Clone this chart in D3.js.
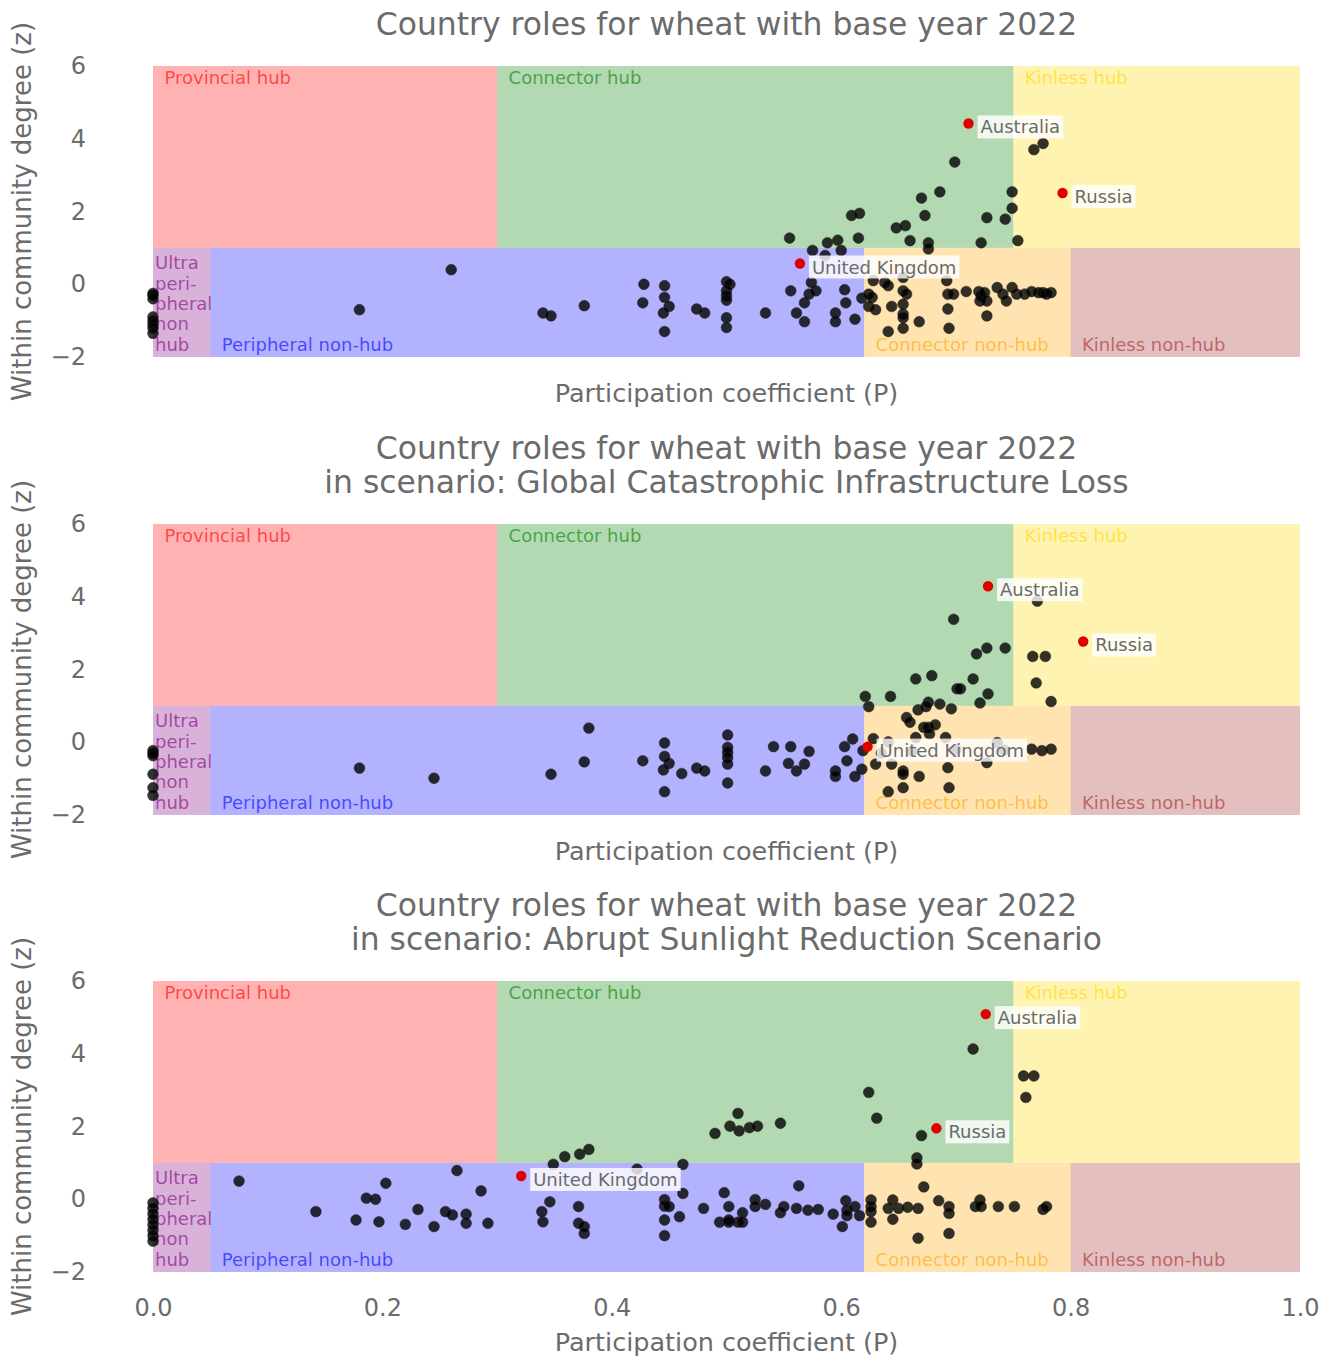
<!DOCTYPE html>
<html>
<head>
<title>Country roles for wheat</title>
<meta charset="utf-8">
<style type="text/css">
body { margin: 0; background: #fff; }
svg text { font-family: "DejaVu Sans", sans-serif; }
</style>
</head>
<body>
<svg id="chart"></svg>

<script src="https://d3js.org/d3.v7.min.js"></script>
<script type="text/javascript">
// ---- data ----
const X_TICKS = [0, 0.2, 0.4, 0.6, 0.8, 1.0];
const Y_TICKS = [-2, 0, 2, 4, 6];

// role regions: [name, label, p0, p1, z0, z1]
const ROLES = [
    ["ultra", "Ultra\nperi-\npheral\nnon\nhub", 0, 0.05, -2, 1],
    ["peripheral", "Peripheral non-hub", 0.05, 0.62, -2, 1],
    ["connectorNon", "Connector non-hub", 0.62, 0.8, -2, 1],
    ["kinlessNon", "Kinless non-hub", 0.8, 1, -2, 1],
    ["provincial", "Provincial hub", 0, 0.3, 1, 6],
    ["connectorHub", "Connector hub", 0.3, 0.75, 1, 6],
    ["kinlessHub", "Kinless hub", 0.75, 1, 1, 6]
];

const TITLES = [
    ["Country roles for wheat with base year 2022"],
    ["Country roles for wheat with base year 2022", "in scenario: Global Catastrophic Infrastructure Loss"],
    ["Country roles for wheat with base year 2022", "in scenario: Abrupt Sunlight Reduction Scenario"]
];

// [participation P, within-community degree z]
const BASE_POINTS = [
    [0,-0.25],[0,-0.3],[0,-0.4],[0,-0.9],[0,-1.0],[0,-1.1],[0,-1.2],[0,-1.35],
    [0.26,0.4],[0.18,-0.7],[0.34,-0.79],[0.347,-0.87],[0.376,-0.59],
    [0.768,3.70],[0.776,3.87],[0.699,3.36],[0.686,2.54],[0.670,2.37],[0.749,2.54],[0.749,2.09],
    [0.673,1.89],[0.727,1.83],[0.743,1.79],[0.609,1.89],[0.616,1.95],[0.648,1.55],[0.656,1.61],
    [0.555,1.27],[0.588,1.14],[0.597,1.21],[0.615,1.27],[0.660,1.20],[0.676,1.14],[0.676,0.97],
    [0.722,1.14],[0.754,1.20],[0.575,0.93],[0.600,0.93],[0.586,0.79],
    [0.428,0.0],[0.427,-0.51],[0.446,-0.04],[0.446,-0.36],[0.450,-0.61],[0.445,-0.79],[0.446,-1.30],
    [0.474,-0.68],[0.481,-0.79],[0.500,0.07],[0.503,0.0],[0.500,-0.18],[0.500,-0.32],[0.500,-0.44],
    [0.500,-0.92],[0.500,-1.19],[0.534,-0.79],[0.556,-0.18],[0.561,-0.79],[0.568,-1.03],[0.568,-0.51],
    [0.574,0.05],[0.572,-0.27],[0.578,-0.18],[0.603,-0.15],[0.604,-0.51],[0.595,-0.79],[0.595,-1.03],
    [0.612,-0.96],[0.618,-0.38],
    [0.624,-0.27],[0.627,-0.36],[0.628,0.10],[0.624,-0.61],[0.630,-0.70],[0.638,0.05],[0.641,-0.04],
    [0.641,-1.30],[0.644,-0.61],[0.654,0.19],[0.654,-0.18],[0.657,-0.27],[0.654,-0.55],[0.654,-0.82],
    [0.654,-0.92],[0.654,-1.21],[0.668,-1.03],[0.692,0.10],[0.693,-0.27],[0.698,-0.27],[0.693,-0.68],
    [0.694,-1.21],[0.709,-0.20],[0.720,-0.20],[0.722,-0.32],[0.721,-0.46],[0.725,-0.23],[0.727,-0.46],
    [0.727,-0.87],[0.736,-0.09],[0.741,-0.27],[0.744,-0.46],[0.749,-0.09],[0.753,-0.27],[0.760,-0.27],
    [0.766,-0.20],[0.772,-0.23],[0.776,-0.23],[0.779,-0.27],[0.783,-0.23]
];
const BASE_NAMED = [["Australia", 0.711, 4.42], ["Russia", 0.793, 2.51], ["United Kingdom", 0.564, 0.57]];

const GCIL_POINTS = [
    [0,-0.23],[0,-0.3],[0,-0.37],[0,-0.88],[0,-1.25],[0,-1.46],
    [0.380,0.39],[0.180,-0.71],[0.245,-0.99],[0.347,-0.88],[0.376,-0.54],
    [0.771,3.88],[0.698,3.38],[0.718,2.43],[0.727,2.59],[0.743,2.59],[0.767,2.36],[0.778,2.36],
    [0.770,1.63],[0.783,1.12],[0.665,1.74],[0.679,1.83],[0.715,1.74],[0.701,1.47],[0.704,1.47],
    [0.728,1.33],[0.721,1.08],[0.621,1.26],[0.624,0.98],[0.643,1.26],[0.667,0.89],[0.676,1.10],
    [0.674,0.98],[0.686,1.05],[0.696,0.92],[0.657,0.68],[0.660,0.55],[0.672,0.41],[0.676,0.41],
    [0.682,0.48],[0.677,0.23],[0.665,0.13],[0.691,0.13],[0.628,0.10],[0.641,0.01],[0.766,-0.19],
    [0.775,-0.23],[0.783,-0.19],[0.736,-0.01],[0.727,-0.56],[0.630,-0.60],[0.644,-0.60],[0.654,-0.79],
    [0.654,-0.88],[0.668,-0.94],[0.693,-0.70],[0.641,-1.36],[0.654,-1.25],[0.694,-1.25],
    [0.635,-0.30],[0.662,-0.25],[0.700,-0.20],[0.742,-0.22],
    [0.427,-0.51],[0.446,-0.02],[0.446,-0.39],[0.450,-0.58],[0.445,-0.76],[0.446,-1.36],[0.461,-0.86],
    [0.474,-0.71],[0.481,-0.79],[0.501,0.20],[0.501,-0.14],[0.501,-0.28],[0.501,-0.42],[0.501,-0.60],
    [0.501,-1.12],[0.534,-0.79],[0.541,-0.12],[0.556,-0.12],[0.572,-0.25],[0.554,-0.58],[0.561,-0.79],
    [0.568,-0.60],[0.603,-0.12],[0.610,0.09],[0.605,-0.51],[0.595,-0.79],[0.595,-0.94],[0.612,-0.94],
    [0.618,-0.74],[0.619,-0.23]
];
const GCIL_NAMED = [["Australia", 0.728, 4.29], ["Russia", 0.811, 2.77], ["United Kingdom", 0.623, -0.12]];

const ASRS_POINTS = [
    [0,-0.1],[0,-0.25],[0,-0.4],[0,-0.55],[0,-0.7],[0,-0.85],[0,-1.0],[0,-1.15],
    [0.075,0.50],[0.142,-0.34],[0.177,-0.57],[0.197,-0.62],[0.186,0.03],[0.194,0.0],[0.203,0.44],
    [0.220,-0.69],[0.231,-0.28],[0.245,-0.75],[0.255,-0.34],[0.261,-0.43],[0.265,0.79],[0.273,-0.41],
    [0.273,-0.66],[0.286,0.23],[0.292,-0.66],[0.339,-0.34],[0.340,-0.62],[0.346,-0.07],[0.349,0.96],
    [0.359,1.17],[0.372,1.24],[0.380,1.37],[0.371,-0.20],[0.371,-0.66],[0.376,-0.75],[0.376,-0.94],
    [0.715,4.13],[0.759,3.39],[0.768,3.39],[0.761,2.80],[0.624,2.94],[0.631,2.23],[0.670,1.75],
    [0.666,1.14],[0.666,0.97],[0.490,1.81],[0.503,2.01],[0.510,2.36],[0.511,1.88],[0.520,1.97],
    [0.527,2.01],[0.547,2.09],[0.462,0.96],[0.422,0.83],[0.563,0.37],[0.672,0.34],[0.462,0.16],
    [0.498,0.18],[0.446,-0.01],[0.446,-0.19],[0.450,-0.20],[0.446,-0.57],[0.446,-1.00],[0.459,-0.48],
    [0.480,-0.25],[0.502,-0.20],[0.494,-0.63],[0.502,-0.63],[0.502,-0.57],[0.510,-0.63],[0.514,-0.37],
    [0.514,-0.63],[0.525,-0.01],[0.525,-0.20],[0.534,-0.14],[0.547,-0.37],[0.550,-0.20],[0.561,-0.25],
    [0.571,-0.30],[0.580,-0.28],[0.593,-0.41],[0.601,-0.75],[0.604,-0.04],[0.605,-0.30],[0.605,-0.45],
    [0.612,-0.20],[0.616,-0.45],[0.626,-0.02],[0.626,-0.20],[0.626,-0.34],[0.626,-0.63],[0.641,-0.25],
    [0.645,-0.02],[0.650,-0.25],[0.645,-0.55],[0.658,-0.22],[0.667,-0.25],[0.667,-1.07],[0.685,-0.04],
    [0.694,-0.20],[0.694,-0.39],[0.694,-0.94],[0.717,-0.20],[0.721,-0.02],[0.722,-0.20],[0.737,-0.20],
    [0.751,-0.20],[0.776,-0.28],[0.779,-0.20]
];
const ASRS_NAMED = [["Australia", 0.726, 5.09], ["Russia", 0.683, 1.95], ["United Kingdom", 0.321, 0.64]];

// ---- layout / style ----
const WIDTH = 1332, HEIGHT = 1360;
const PLOT_LEFT = 153, PLOT_RIGHT = 1300;
const PANEL_TOPS = [66, 524, 981];
const PLOT_H = 291;
const TEXT_GREY = "#6b6b6b";
const ROLE_COLORS = {
    ultra: "purple", peripheral: "blue", connectorNon: "orange", kinlessNon: "brown",
    provincial: "red", connectorHub: "green", kinlessHub: "gold"
};

const svg = d3.select("#chart").attr("width", WIDTH).attr("height", HEIGHT);

const x = d3.scaleLinear().domain([0, 1]).range([PLOT_LEFT, PLOT_RIGHT]);

function drawPanel(i, points, named) {
    const top = PANEL_TOPS[i];
    const y = d3.scaleLinear().domain([-2, 6]).range([top + PLOT_H, top]);
    const g = svg.append("g");

    // role backgrounds
    g.selectAll("rect.role").data(ROLES).join("rect")
        .attr("class", "role")
        .attr("x", d => x(d[2])).attr("width", d => x(d[3]) - x(d[2]))
        .attr("y", d => y(d[5])).attr("height", d => y(d[4]) - y(d[5]))
        .attr("fill", d => ROLE_COLORS[d[0]]).attr("fill-opacity", 0.3);

    // role labels
    ROLES.forEach(d => {
        const lines = d[1].split("\n");
        const isHub = d[4] >= 1;
        const lx = d[0] === "ultra" ? x(d[2]) + 2 : x(d[2] + 0.01);
        const t = g.append("text")
            .attr("fill", ROLE_COLORS[d[0]]).attr("fill-opacity", 0.62)
            .attr("font-size", 18);
        const baseY = isHub ? y(d[5]) + 17.5 : y(d[4]) - 6.5 - (lines.length - 1) * 20.3;
        lines.forEach((line, k) => {
            t.append("tspan").attr("x", lx).attr("y", baseY + k * 20.3).text(line);
        });
    });

    // y axis
    const yAxis = g.append("g")
        .attr("transform", `translate(${PLOT_LEFT - 67},0)`)
        .call(d3.axisLeft(y).tickValues(Y_TICKS).tickSize(0).tickPadding(0)
            .tickFormat(d => d < 0 ? "\u2212" + Math.abs(d) : d));
    yAxis.select(".domain").remove();
    yAxis.selectAll("text").attr("font-size", 24).attr("fill", TEXT_GREY)
        .attr("font-family", "DejaVu Sans");

    g.append("text")
        .attr("transform", `translate(31,${top + PLOT_H / 2}) rotate(-90)`)
        .attr("text-anchor", "middle").attr("font-size", 26).attr("fill", TEXT_GREY)
        .text("Within community degree (z)");

    // x axis (tick labels only on the last panel)
    if (i === PANEL_TOPS.length - 1) {
        const xAxis = g.append("g")
            .attr("transform", `translate(0,${top + PLOT_H + 27})`)
            .call(d3.axisBottom(x).tickValues(X_TICKS).tickSize(0).tickPadding(0)
                .tickFormat(d3.format(".1f")));
        xAxis.select(".domain").remove();
        xAxis.selectAll("text").attr("font-size", 24).attr("fill", TEXT_GREY)
            .attr("font-family", "DejaVu Sans");
    }
    const labelY = i === PANEL_TOPS.length - 1 ? top + PLOT_H + 79 : top + PLOT_H + 45;
    g.append("text")
        .attr("x", (PLOT_LEFT + PLOT_RIGHT) / 2).attr("y", labelY)
        .attr("text-anchor", "middle").attr("font-size", 25.5).attr("fill", TEXT_GREY)
        .text("Participation coefficient (P)");

    // title
    const titleLines = TITLES[i];
    const title = g.append("text")
        .attr("text-anchor", "middle").attr("font-size", 31.4).attr("fill", TEXT_GREY);
    titleLines.forEach((line, k) => {
        title.append("tspan")
            .attr("x", (PLOT_LEFT + PLOT_RIGHT) / 2)
            .attr("y", top - 31 - (titleLines.length - 1 - k) * 34)
            .text(line);
    });

    // points
    g.selectAll("circle.pt").data(points).join("circle")
        .attr("class", "pt")
        .attr("cx", d => x(d[0])).attr("cy", d => y(d[1])).attr("r", 5.4)
        .attr("fill", "#000").attr("fill-opacity", 0.8)
        .attr("stroke", "#222").attr("stroke-opacity", 0.6).attr("stroke-width", 0.8);

    g.selectAll("circle.named").data(named).join("circle")
        .attr("class", "named")
        .attr("cx", d => x(d[1])).attr("cy", d => y(d[2])).attr("r", 5.2)
        .attr("fill", "#e00000");

    named.forEach(d => {
        const lg = g.append("g");
        const t = lg.append("text")
            .attr("x", x(d[1]) + 12).attr("y", y(d[2]) + 10)
            .attr("font-size", 18).attr("fill", TEXT_GREY)
            .text(d[0]);
        const bb = t.node().getBBox();
        lg.insert("rect", "text")
            .attr("x", bb.x - 3).attr("y", bb.y - 1)
            .attr("width", bb.width + 6).attr("height", bb.height + 2)
            .attr("fill", "#fff").attr("fill-opacity", 0.8);
    });
}

drawPanel(0, BASE_POINTS, BASE_NAMED);
drawPanel(1, GCIL_POINTS, GCIL_NAMED);
drawPanel(2, ASRS_POINTS, ASRS_NAMED);
</script>
</body>
</html>
